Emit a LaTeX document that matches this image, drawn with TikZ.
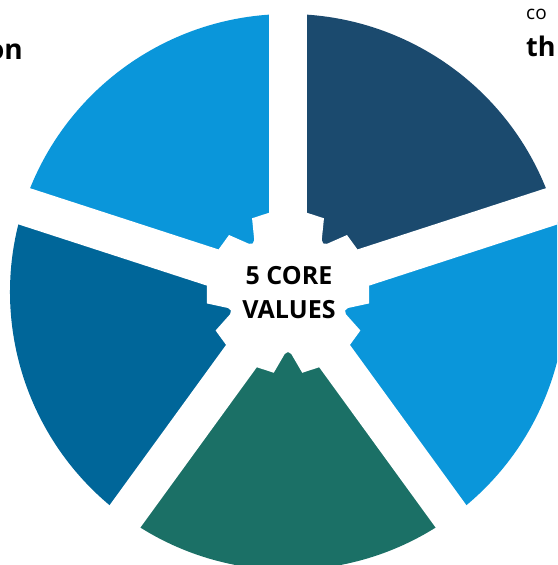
\documentclass[tikz,border=0pt]{standalone}
\usepackage{fontspec}
\setmainfont{Open Sans}
\definecolor{navyseg}{HTML}{1B4A6E}
\definecolor{skyseg}{HTML}{0A96DA}
\definecolor{blueseg}{HTML}{006699}
\definecolor{greenseg}{HTML}{1B7066}
\newcommand{\pieR}{278}

\begin{document}
\begin{tikzpicture}[x=1pt,y=1pt]
  \useasboundingbox (0,0) rectangle (557,565);
  \clip (0,0) rectangle (557,565);
  \begin{scope}[shift={(288,273)}]
    % the five segments
    \fill[navyseg]  (0,0) -- (18:\pieR)  arc(18:90:\pieR)   -- cycle;
    \fill[skyseg]   (0,0) -- (90:\pieR)  arc(90:162:\pieR)  -- cycle;
    \fill[blueseg]  (0,0) -- (162:\pieR) arc(162:234:\pieR) -- cycle;
    \fill[greenseg] (0,0) -- (234:\pieR) arc(234:306:\pieR) -- cycle;
    \fill[skyseg]   (0,0) -- (306:\pieR) arc(306:378:\pieR) -- cycle;
    % white gaps
    \foreach \g in {18,90,162,234,306}
      \draw[white,line width=38pt] (0,0) -- (\g:320);
    % gear in the middle
    \fill[white] (-18:60) \foreach \a in {0,36,...,324} {
        -- (\a-15:62) -- (\a-8:82) -- (\a+8:82) -- (\a+15:62) -- (\a+18:60)
      } -- cycle;
    \node[align=center,font=\fontsize{25}{34}\selectfont\bfseries] (core) at (1,-1) {5 CORE\\VALUES};
  \end{scope}
  \node[anchor=base east,inner sep=0pt,font=\fontsize{28}{32}\selectfont\bfseries] (txtleft) at (23,505) {on};
  \node[anchor=base west,inner sep=0pt,font=\fontsize{19}{22}\selectfont] (txtco) at (526,545) {co};
  \node[anchor=base west,inner sep=0pt,font=\fontsize{27}{30}\selectfont\bfseries] (txtth) at (526,508) {th};
\end{tikzpicture}
\end{document}
